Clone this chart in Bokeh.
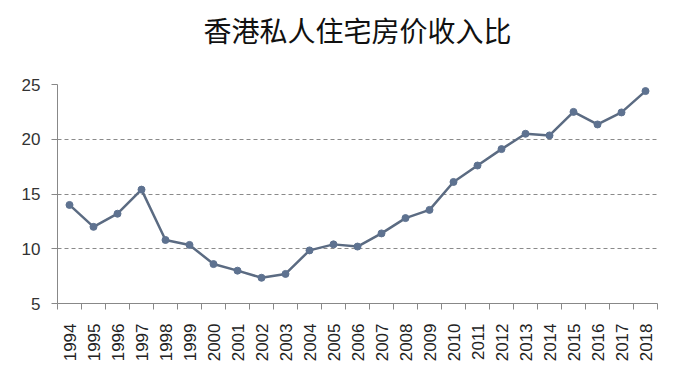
import math
from bokeh.plotting import figure
from bokeh.models import FixedTicker, Range1d, Title
from bokeh.embed import file_html
from bokeh.resources import INLINE

title_text = "香港私人住宅房价收入比"
years = ["1994", "1995", "1996", "1997", "1998", "1999", "2000", "2001", "2002",
         "2003", "2004", "2005", "2006", "2007", "2008", "2009", "2010", "2011",
         "2012", "2013", "2014", "2015", "2016", "2017", "2018"]
ratio = [14.0, 12.0, 13.2, 15.4, 10.8, 10.35, 8.6, 8.0, 7.35, 7.7, 9.85, 10.4,
         10.2, 11.4, 12.8, 13.55, 16.1, 17.6, 19.1, 20.5, 20.35, 22.5, 21.35, 22.45, 24.4]
y_ticks = [5, 10, 15, 20, 25]

idx = list(range(len(years)))

p = figure(width=665, height=370, output_backend="svg", toolbar_location=None, title=None,
           x_range=Range1d(-0.5, len(years) - 0.5), y_range=Range1d(5, 25),
           min_border_left=57, min_border_right=8, min_border_top=84, min_border_bottom=67)
p.outline_line_color = None
p.background_fill_color = "white"
p.border_fill_color = "white"

# empty spacer panel between the frame and the title
spacer = Title(text=" ", text_font_size="1px", standoff=32)
p.add_layout(spacer, "above")
main_title = Title(text=title_text, align="center", text_font="Noto Sans CJK SC",
                   text_font_size="28px", text_font_style="normal", text_color="#111111",
                   standoff=0)
p.add_layout(main_title, "above")

line_color = "#5b6b82"
p.line(idx, ratio, line_color=line_color, line_width=2.5)
p.scatter(idx, ratio, size=7, fill_color="#5e7290", line_color="#5e7290")

# x axis
xa = p.xaxis[0]
xa.ticker = FixedTicker(ticks=idx, minor_ticks=[i - 0.5 for i in idx] + [len(years) - 0.5])
xa.major_label_overrides = {i: y for i, y in zip(idx, years)}
xa.major_tick_out = 0
xa.major_tick_in = 0
xa.minor_tick_out = 6
xa.minor_tick_in = 0
xa.minor_tick_line_color = "#888888"
xa.axis_line_color = "#888888"
xa.major_label_orientation = math.pi / 2
xa.major_label_text_font = "Liberation Sans"
xa.major_label_text_font_size = "17px"
xa.major_label_text_color = "#222222"
xa.major_label_standoff = 14

# y axis
ya = p.yaxis[0]
ya.ticker = FixedTicker(ticks=y_ticks)
ya.minor_tick_line_color = None
ya.major_tick_out = 6
ya.major_tick_in = 0
ya.major_tick_line_color = "#888888"
ya.axis_line_color = "#888888"
ya.major_label_text_font = "Liberation Sans"
ya.major_label_text_font_size = "17px"
ya.major_label_text_color = "#333333"
ya.major_label_standoff = 11

p.xgrid.grid_line_color = None
p.ygrid.grid_line_color = "#8a8a8a"
p.ygrid.grid_line_dash = "4 3"
p.ygrid.grid_line_width = 1

open("out.html", "w").write(file_html(p, INLINE))
